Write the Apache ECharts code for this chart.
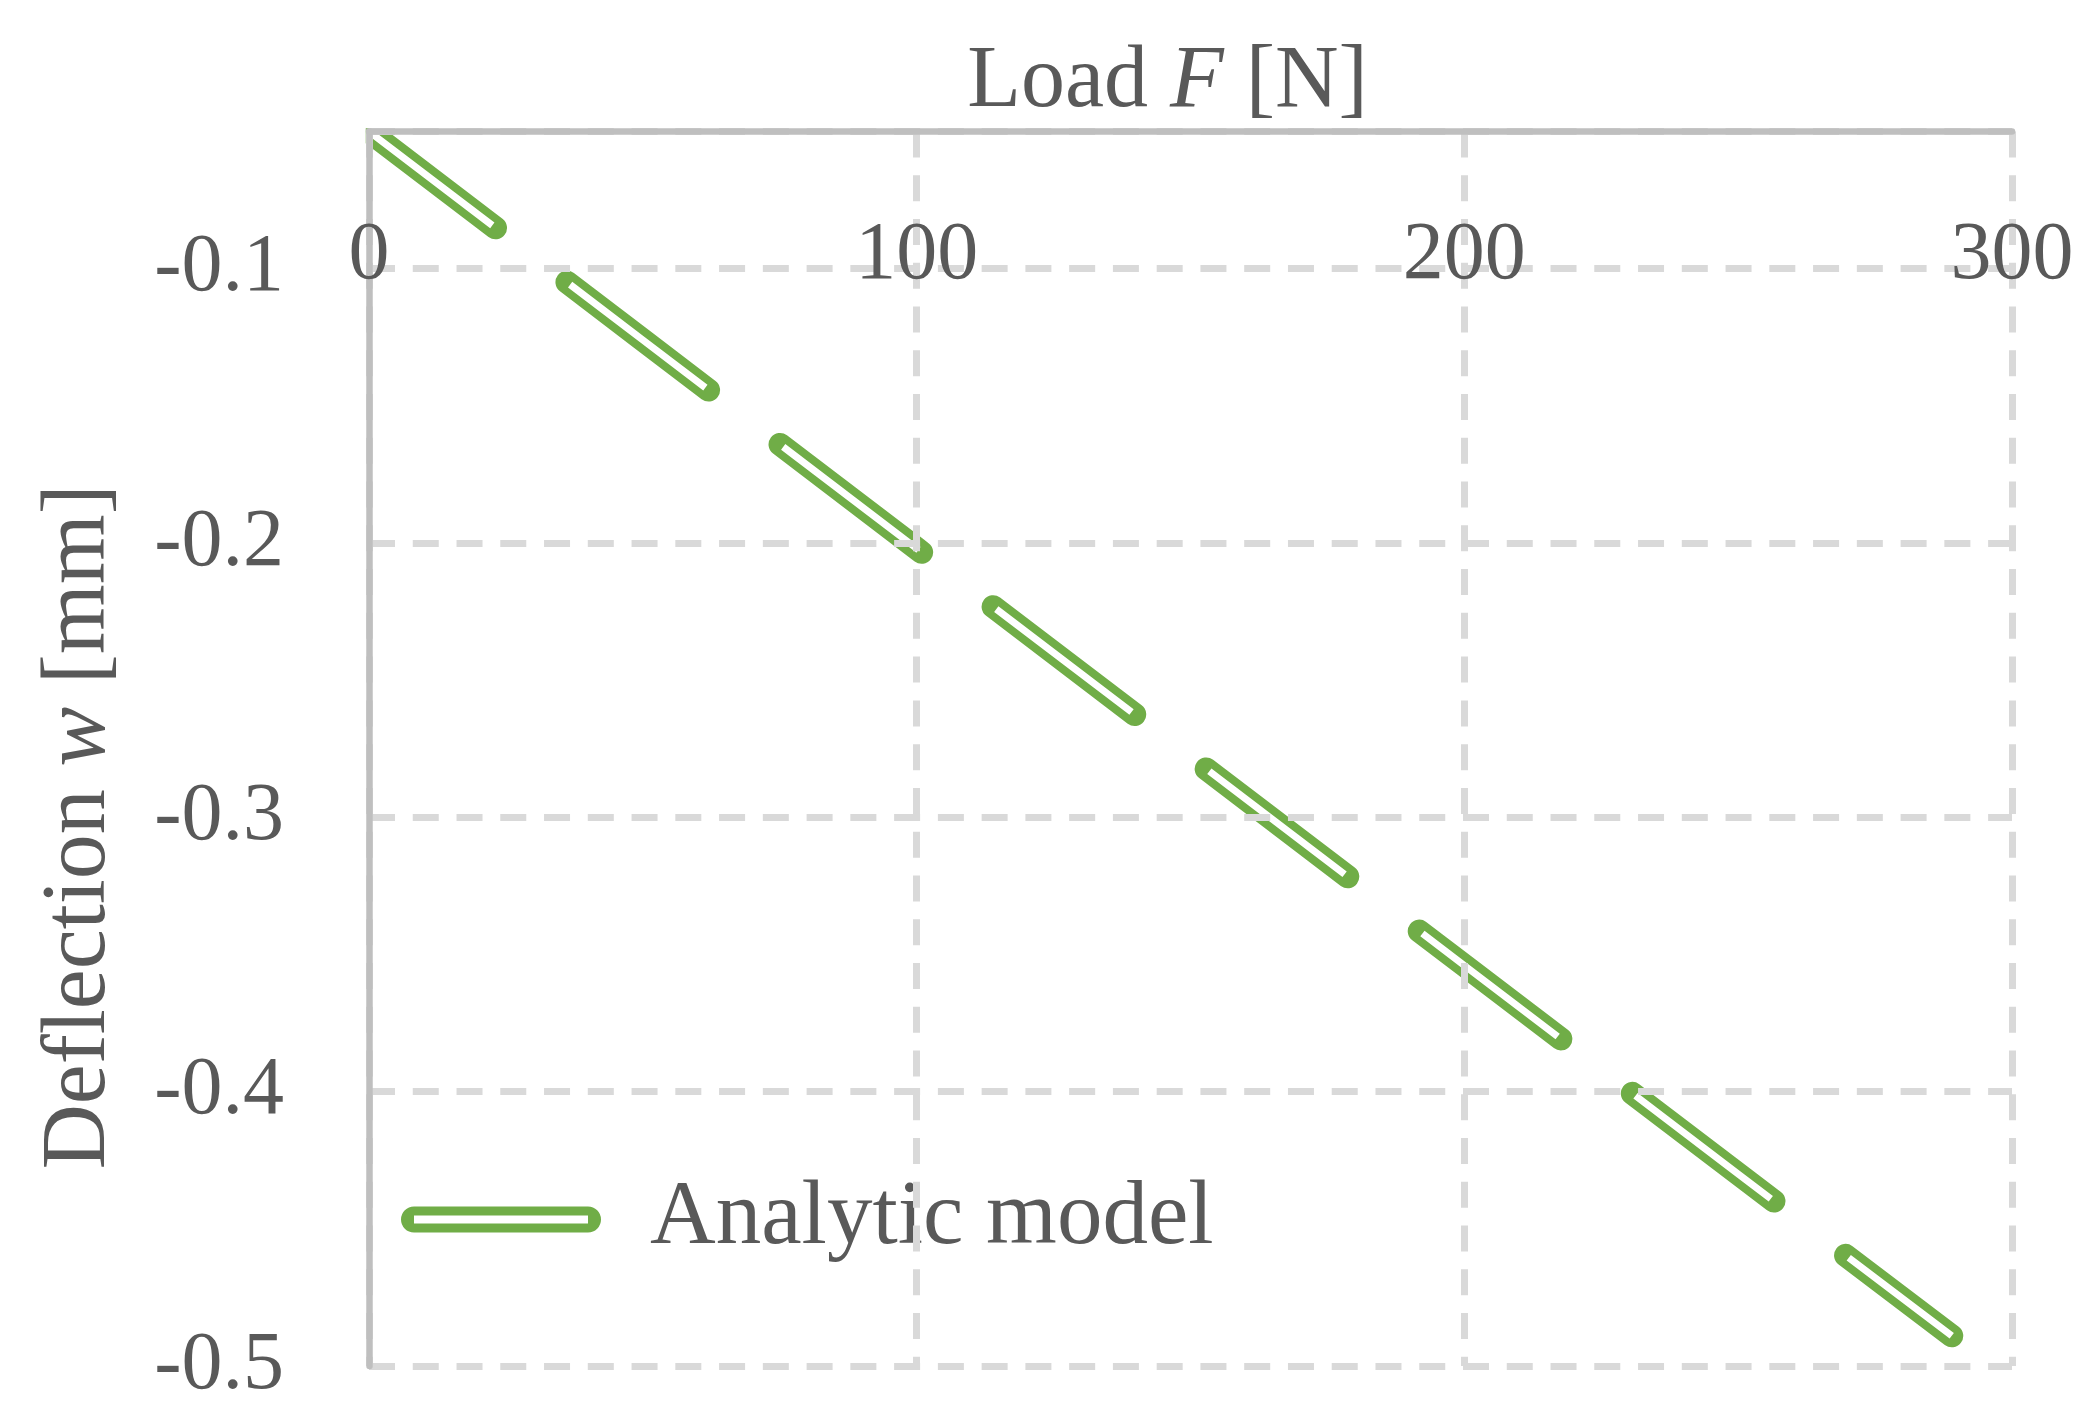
<!DOCTYPE html>
<html><head><meta charset="utf-8">
<script src="https://cdn.jsdelivr.net/npm/echarts@6/dist/echarts.min.js"></script>
<style>html,body{margin:0;padding:0;background:#fff}#c{width:2100px;height:1422px}</style>
</head><body><div id="c"></div><script>
// Data
const loadF = [0, 50, 100, 150, 200, 250, 289];
const deflectionW = [-0.05, -0.126, -0.202, -0.278, -0.354, -0.43, -0.489];
const xMin = 0, xMax = 300, xStep = 100;
const yMin = -0.5, yMax = -0.05, yStep = 0.1;
const seriesName = 'Analytic model';
const xTitle = ['Load ', 'F', ' [N]'];
const yTitle = ['Deflection ', 'w', ' [mm]'];

const FONT = '"Liberation Serif", "Times New Roman", serif';
const TXT = '#595959';
const GREEN = '#70ad47';
const pts = loadF.map((f, i) => [f, deflectionW[i]]);

const chart = echarts.init(document.getElementById('c'), null, {renderer: 'canvas'});
const rich = size => ({
  n: {fontFamily: FONT, fontSize: size, color: TXT},
  i: {fontFamily: FONT, fontSize: size, color: TXT, fontStyle: 'italic'}
});
chart.setOption({
  animation: false,
  backgroundColor: '#fff',
  grid: {left: 369, right: 88, top: 131.5, bottom: 56, containLabel: false},
  legend: {
    left: 401, top: 1174, padding: 0,
    itemWidth: 200, itemHeight: 26,
    data: [{
      name: seriesName,
      // capsule ring: rounded outline with a rectangular hole (double line look)
      icon: 'path://M13,0 H187 A13,13 0 0 1 187,26 H13 A13,13 0 0 1 13,0 Z M13,9 V17 H187 V9 Z',
      itemStyle: {color: GREEN, borderWidth: 0}
    }],
    textStyle: {fontFamily: FONT, fontSize: 91, color: TXT, padding: [0, 0, 0, 44]}
  },
  xAxis: {
    type: 'value', position: 'top', min: xMin, max: xMax, interval: xStep, z: 5,
    name: `{n|${xTitle[0]}}{i|${xTitle[1]}}{n|${xTitle[2]}}`,
    nameLocation: 'middle', nameGap: -12,
    nameTextStyle: {padding: [0, 46, 0, 0], rich: rich(88)},
    axisLine: {show: true, lineStyle: {color: '#bfbfbf', width: 6.5}},
    axisTick: {show: false},
    axisLabel: {inside: true, margin: 84, fontFamily: FONT, fontSize: 82, color: TXT},
    splitLine: {show: true, lineStyle: {color: '#d9d9d9', width: 7, type: [26, 17.76]}}
  },
  yAxis: {
    type: 'value', min: yMin, max: yMax, interval: yStep, z: 5,
    name: `{n|${yTitle[0]}}{i|${yTitle[1]}}{n|${yTitle[2]}}`,
    nameLocation: 'middle', nameGap: 244,
    nameTextStyle: {padding: [0, 156, 0, 0], rich: rich(90)},
    axisLine: {show: true, lineStyle: {color: '#bfbfbf', width: 6.5}},
    axisTick: {show: false},
    axisLabel: {margin: 85, fontFamily: FONT, fontSize: 82, color: TXT, showMaxLabel: false,
      formatter: v => (Math.round(v * 10) / 10).toString()},
    splitLine: {show: true, lineStyle: {color: '#d9d9d9', width: 7, type: [26, 17.76]}}
  },
  series: [
    {
      name: seriesName, type: 'line', data: pts, symbol: 'none', showSymbol: false, z: 2,
      lineStyle: {color: GREEN, width: 23, type: [178, 89.8], dashOffset: 19, cap: 'round', join: 'round'},
      itemStyle: {color: GREEN}
    },
    {
      name: 'inner', type: 'line', data: pts, symbol: 'none', showSymbol: false, z: 3,
      lineStyle: {color: '#ffffff', width: 7, type: [170, 97.8], dashOffset: 15, cap: 'butt', join: 'round'},
      itemStyle: {color: '#fff'}, silent: true
    }
  ]
});

// Clip the round line cap at the plot corner like the reference (mask just outside the plot area)
const corner = chart.convertToPixel({gridIndex: 0}, [xMin, yMax]);
const pad = 16, half = 3.25;
chart.setOption({
  graphic: [
    {type: 'rect', z: 4, silent: true, shape: {x: corner[0] - pad, y: corner[1] - pad, width: pad + 50, height: pad - half}, style: {fill: '#fff'}},
    {type: 'rect', z: 4, silent: true, shape: {x: corner[0] - pad, y: corner[1] - pad, width: pad - half, height: pad + 50}, style: {fill: '#fff'}}
  ]
});
</script></body></html>
